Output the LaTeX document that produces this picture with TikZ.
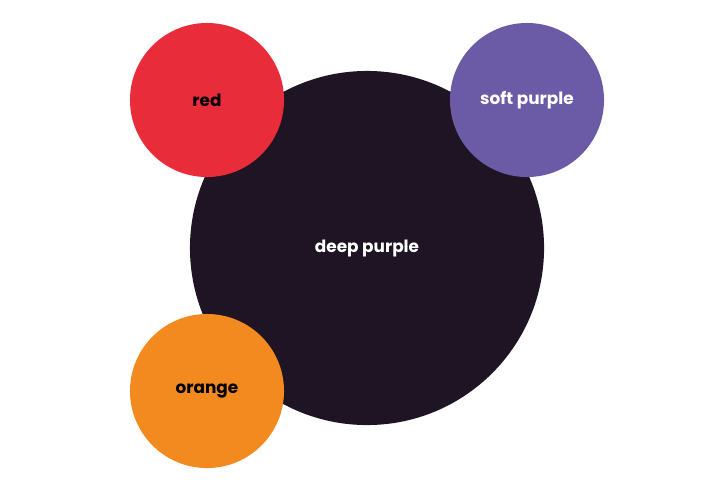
\documentclass[tikz,border=0pt]{standalone}
\usepackage{fontspec}
\setmainfont{Poppins}
\usepackage{tikz}
\definecolor{deeppurple}{HTML}{1F1424}
\definecolor{softpurple}{HTML}{6B5AA6}
\definecolor{redc}{HTML}{E92C3A}
\definecolor{orangec}{HTML}{F28A20}
\tikzset{blob/.style={circle, inner sep=0pt, font=\fontsize{12}{14}\selectfont\bfseries}}
\begin{document}
\begin{tikzpicture}[x=0.025cm, y=-0.025cm]
	\useasboundingbox (0,0) rectangle (720,487);
	\node[blob, fill=deeppurple, text=white, minimum size=8.85cm] (deep) at (367,248) {deep purple};
	\node[blob, fill=redc, text=black, minimum size=3.85cm] (red) at (207,100) {red};
	\node[blob, fill=softpurple, text=white, minimum size=3.85cm] (soft) at (527,100) {soft purple};
	\node[blob, fill=orangec, text=black, minimum size=3.85cm] (orange) at (207,391) {orange};
\end{tikzpicture}
\end{document}
